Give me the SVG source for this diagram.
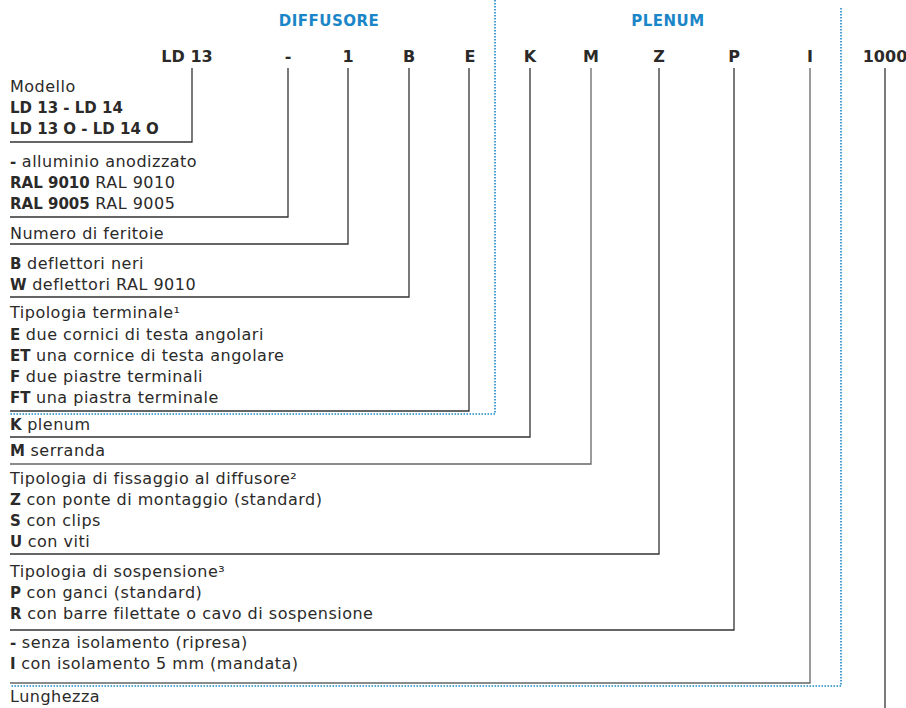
<svg xmlns="http://www.w3.org/2000/svg" width="906" height="708" viewBox="0 0 906 708">
<style>
text{font-family:"DejaVu Sans","Open Sans",sans-serif;fill:#2b2a29}
.t{font-size:16px;letter-spacing:0.5px}
.b{font-weight:700;font-size:15px;letter-spacing:0}
.code{font-size:16px;font-weight:700;text-anchor:middle}
.hd{font-size:15px;font-weight:700;fill:#1a86c8;text-anchor:middle;letter-spacing:0.5px}
.ln{fill:none;stroke:#333;stroke-width:1.3}
.ln2{fill:none;stroke:#666;stroke-width:1.3}
.dot{fill:none;stroke:#1a86c8;stroke-width:1.6;stroke-dasharray:1.5 1.5}
</style>
<rect width="906" height="708" fill="#fff"/>
<g id="headers">
<text class="hd" x="329" y="26">DIFFUSORE</text>
<text class="hd" x="668" y="26">PLENUM</text>
</g>
<g id="sections">
<path class="dot" d="M495 0V414H10"/>
<path class="dot" d="M841 8V686H10"/>
</g>
<g id="connectors">
<path class="ln" d="M192 68V142H10"/>
<path class="ln" d="M288 68V217H10"/>
<path class="ln" d="M348 68V244H10"/>
<path class="ln" d="M409 68V297H10"/>
<path class="ln" d="M469 68V411H10"/>
<path class="ln" d="M530 68V437H10"/>
<path class="ln2" d="M591 68V464H10"/>
<path class="ln" d="M659 68V554H10"/>
<path class="ln" d="M734 68V630H10"/>
<path class="ln2" d="M810 68V683H10"/>
<path class="ln" d="M885 68V708"/>
</g>
<g id="n-modello">
<text class="code" x="187" y="62">LD 13</text>
<text class="t" x="10" y="92">Modello</text>
<text class="t" x="10" y="113"><tspan class="b">LD 13 - LD 14</tspan></text>
<text class="t" x="10" y="134"><tspan class="b">LD 13 O - LD 14 O</tspan></text>
</g>
<g id="n-finitura">
<text class="code" x="288" y="62">-</text>
<text class="t" x="10" y="167"><tspan class="b">-</tspan> alluminio anodizzato</text>
<text class="t" x="10" y="188"><tspan class="b">RAL 9010</tspan> RAL 9010</text>
<text class="t" x="10" y="209"><tspan class="b">RAL 9005</tspan> RAL 9005</text>
</g>
<g id="n-feritoie">
<text class="code" x="348" y="62">1</text>
<text class="t" x="10" y="239">Numero di feritoie</text>
</g>
<g id="n-deflettori">
<text class="code" x="409" y="62">B</text>
<text class="t" x="10" y="269"><tspan class="b">B</tspan> deflettori neri</text>
<text class="t" x="10" y="290"><tspan class="b">W</tspan> deflettori RAL 9010</text>
</g>
<g id="n-terminale">
<text class="code" x="470" y="62">E</text>
<text class="t" x="10" y="318">Tipologia terminale¹</text>
<text class="t" x="10" y="340"><tspan class="b">E</tspan> due cornici di testa angolari</text>
<text class="t" x="10" y="361"><tspan class="b">ET</tspan> una cornice di testa angolare</text>
<text class="t" x="10" y="382"><tspan class="b">F</tspan> due piastre terminali</text>
<text class="t" x="10" y="403"><tspan class="b">FT</tspan> una piastra terminale</text>
</g>
<g id="n-plenum">
<text class="code" x="530" y="62">K</text>
<text class="t" x="10" y="430"><tspan class="b">K</tspan> plenum</text>
</g>
<g id="n-serranda">
<text class="code" x="591" y="62">M</text>
<text class="t" x="10" y="456"><tspan class="b">M</tspan> serranda</text>
</g>
<g id="n-fissaggio">
<text class="code" x="659" y="62">Z</text>
<text class="t" x="10" y="484">Tipologia di fissaggio al diffusore²</text>
<text class="t" x="10" y="505"><tspan class="b">Z</tspan> con ponte di montaggio (standard)</text>
<text class="t" x="10" y="526"><tspan class="b">S</tspan> con clips</text>
<text class="t" x="10" y="547"><tspan class="b">U</tspan> con viti</text>
</g>
<g id="n-sospensione">
<text class="code" x="734" y="62">P</text>
<text class="t" x="10" y="577">Tipologia di sospensione³</text>
<text class="t" x="10" y="598"><tspan class="b">P</tspan> con ganci (standard)</text>
<text class="t" x="10" y="619"><tspan class="b">R</tspan> con barre filettate o cavo di sospensione</text>
</g>
<g id="n-isolamento">
<text class="code" x="810" y="62">I</text>
<text class="t" x="10" y="648"><tspan class="b">-</tspan> senza isolamento (ripresa)</text>
<text class="t" x="10" y="669"><tspan class="b">I</tspan> con isolamento 5 mm (mandata)</text>
</g>
<g id="n-lunghezza">
<text class="code" x="885" y="62">1000</text>
<text class="t" x="10" y="702">Lunghezza</text>
</g>
</svg>
